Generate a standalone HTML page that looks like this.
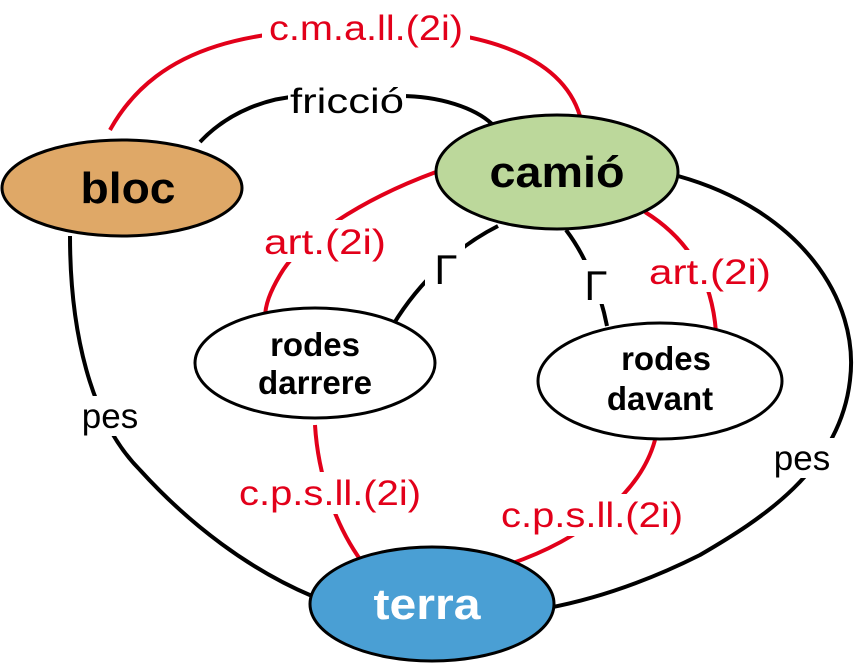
<!DOCTYPE html>
<html><head><meta charset="utf-8"><style>
html,body{margin:0;padding:0;background:#fff;}
svg{display:block}
text{font-family:"Liberation Sans",sans-serif;}
</style></head><body>
<svg width="856" height="668" viewBox="0 0 856 668" xmlns="http://www.w3.org/2000/svg">
<g fill="none" stroke-width="4">
<path d="M110,130 C160,40 260,30 365,28 C470,28 560,50 580,116" stroke="#e2001a"/>
<path d="M200,142 C230,110 270,98 300,96 M400,96 C440,96 475,108 492,124" stroke="#000"/>
<path d="M70,236 C70,330 90,420 140,470 C190,525 250,570 312,596" stroke="#000"/>
<path d="M678,176 C800,210 860,300 850,380 C840,470 760,520 700,555 C640,585 590,600 548,608" stroke="#000"/>
<path d="M436,172 C360,200 300,240 280,275 C270,292 265,305 265,318" stroke="#e2001a"/>
<path d="M498,226 C460,245 420,280 393,325" stroke="#000"/>
<path d="M566,230 C585,255 600,290 607,326" stroke="#000"/>
<path d="M645,212 C690,240 712,280 716,332" stroke="#e2001a"/>
<path d="M315,425 C318,475 335,525 362,562" stroke="#e2001a"/>
<path d="M655,440 C640,495 580,540 510,564" stroke="#e2001a"/>
</g>
<g font-size="35" text-anchor="middle">
<rect x="262" y="6" width="208" height="42" fill="#fff"/>
<text x="366" y="40" fill="#e2001a" textLength="194" lengthAdjust="spacingAndGlyphs">c.m.a.ll.(2i)</text>
<rect x="288" y="80" width="118" height="40" fill="#fff"/>
<text x="347" y="113" fill="#000" textLength="114" lengthAdjust="spacingAndGlyphs">fricció</text>
<rect x="258" y="220" width="134" height="42" fill="#fff"/>
<text x="325" y="254" fill="#e2001a" textLength="122" lengthAdjust="spacingAndGlyphs">art.(2i)</text>
<rect x="643" y="250" width="134" height="42" fill="#fff"/>
<text x="710" y="284" fill="#e2001a" textLength="122" lengthAdjust="spacingAndGlyphs">art.(2i)</text>
<rect x="72" y="396" width="76" height="40" fill="#fff"/>
<text x="110" y="428" fill="#000">pes</text>
<rect x="764" y="438" width="76" height="40" fill="#fff"/>
<text x="802" y="470" fill="#000">pes</text>
<rect x="232" y="472" width="196" height="42" fill="#fff"/>
<text x="330" y="505" fill="#e2001a" textLength="182" lengthAdjust="spacingAndGlyphs">c.p.s.ll.(2i)</text>
<rect x="494" y="494" width="196" height="42" fill="#fff"/>
<text x="592" y="527" fill="#e2001a" textLength="182" lengthAdjust="spacingAndGlyphs">c.p.s.ll.(2i)</text>
<rect x="425" y="244" width="40" height="44" fill="#fff"/>
<text x="446" y="284" font-family="Liberation Serif,serif" font-size="42" fill="#000">Γ</text>
<rect x="576" y="260" width="40" height="44" fill="#fff"/>
<text x="596" y="300" font-family="Liberation Serif,serif" font-size="42" fill="#000">Γ</text>
</g>
<g stroke="#000" stroke-width="3">
<ellipse cx="122" cy="188" rx="120" ry="48" fill="#dfa867"/>
<ellipse cx="557" cy="172" rx="121" ry="57" fill="#bcd89b"/>
<ellipse cx="315" cy="363" rx="120" ry="55" fill="#fff"/>
<ellipse cx="660" cy="381" rx="122" ry="58" fill="#fff"/>
<ellipse cx="432" cy="604" rx="122" ry="57" fill="#4a9fd4"/>
</g>
<g font-weight="bold" text-anchor="middle">
<text x="128" y="203" font-size="44" textLength="95" lengthAdjust="spacingAndGlyphs">bloc</text>
<text x="557" y="187" font-size="44" textLength="135" lengthAdjust="spacingAndGlyphs">camió</text>
<text x="315" y="356" font-size="33">rodes</text>
<text x="315" y="394" font-size="33" textLength="114" lengthAdjust="spacingAndGlyphs">darrere</text>
<text x="666" y="370" font-size="33">rodes</text>
<text x="660" y="410" font-size="33">davant</text>
<text x="427" y="619" font-size="44" fill="#fff" textLength="107" lengthAdjust="spacingAndGlyphs">terra</text>
</g>
</svg>
</body></html>
